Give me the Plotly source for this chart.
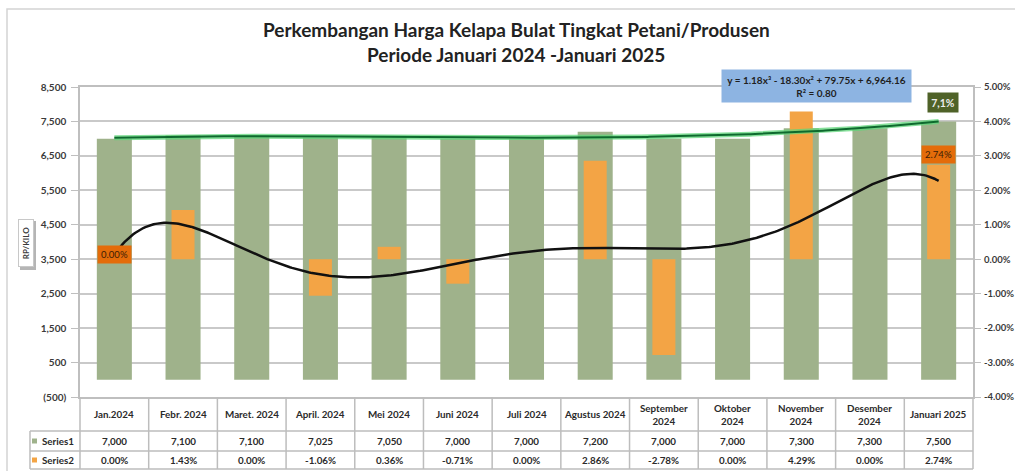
import numpy as np
import plotly.graph_objects as go

# ---------------- data ----------------
categories = ["Jan.2024", "Febr. 2024", "Maret. 2024", "April. 2024", "Mei 2024",
              "Juni 2024", "Juli 2024", "Agustus 2024", "September<br>2024",
              "Oktober<br>2024", "November<br>2024", "Desember<br>2024", "Januari 2025"]
series1 = [7000, 7100, 7100, 7025, 7050, 7000, 7000, 7200, 7000, 7000, 7300, 7300, 7500]
series2 = [0.00, 1.43, 0.00, -1.06, 0.36, -0.71, 0.00, 2.86, -2.78, 0.00, 4.29, 0.00, 2.74]
series_names = ["Series1", "Series2"]
y1_tickvals = [-500, 500, 1500, 2500, 3500, 4500, 5500, 6500, 7500, 8500]
y1_ticktext = ["(500)", "500", "1,500", "2,500", "3,500", "4,500", "5,500", "6,500", "7,500", "8,500"]
y2_tickvals = [-4, -3, -2, -1, 0, 1, 2, 3, 4, 5]
y2_ticktext = ["-4.00%", "-3.00%", "-2.00%", "-1.00%", "0.00%", "1.00%", "2.00%", "3.00%", "4.00%", "5.00%"]
title_lines = ["Perkembangan Harga Kelapa Bulat Tingkat Petani/Produsen",
               "Periode Januari 2024 -Januari 2025"]
trend_eq = "y = 1.18x³ - 18.30x² + 79.75x + 6,964.16<br>R² = 0.80"
badge_text = "7,1%"
y_title = "RP/KILO"

# ---------------- style / geometry ----------------
GREEN = "#9FB28B"
ORANGE = "#F3A445"
LABEL_ORANGE = "#E46C0A"
GRID = "#C9C9C9"
FONT = "Lato, Open Sans, sans-serif"
TXT = "#3A3A3A"

W, H = 1015, 471
L, R, T, B = 80, 42, 87, 74
PW = W - L - R
PH = H - T - B
Y1 = [-500, 8500]
Y2 = [-4, 5]


def px(xp):
    return (xp - L) / PW


def py(yp):
    return (H - B - yp) / PH


def to_y2(v):
    return Y2[0] + (np.asarray(v) - Y1[0]) * (Y2[1] - Y2[0]) / (Y1[1] - Y1[0])


n = len(categories)
xi = np.arange(n)
idx = np.arange(1, n + 1)
c3 = np.polyfit(idx, series1, 3)
c6 = np.polyfit(idx, series2, 6)
t = np.linspace(1, n, 400)
green_fit = np.polyval(c3, t)
black_fit = np.polyval(c6, t)

fig = go.Figure()
fig.add_trace(go.Bar(x=xi, y=series1, width=0.51, marker=dict(color=GREEN, line_width=0),
                     yaxis="y", name=series_names[0]))
fig.add_trace(go.Bar(x=xi, y=series2, width=0.335, marker=dict(color=ORANGE, line_width=0),
                     yaxis="y2", name=series_names[1]))
fig.add_trace(go.Scatter(x=t - 1, y=to_y2(green_fit), yaxis="y2", mode="lines",
                         line=dict(color="#5FD67A", width=5), opacity=0.75, hoverinfo="skip"))
fig.add_trace(go.Scatter(x=t - 1, y=to_y2(green_fit), yaxis="y2", mode="lines",
                         line=dict(color="#0E6A2E", width=2), hoverinfo="skip"))
fig.add_trace(go.Scatter(x=t - 1, y=black_fit, yaxis="y2", mode="lines",
                         line=dict(color="#111111", width=2.5), hoverinfo="skip"))

tickfont = dict(family=FONT, size=10, color=TXT, weight="bold")
tickfont2 = dict(family=FONT, size=9.5, color=TXT, weight="bold")
fig.update_layout(
    width=W, height=H,
    margin=dict(l=L, r=R, t=T, b=B, autoexpand=False),
    paper_bgcolor="white", plot_bgcolor="white",
    showlegend=False, barmode="overlay",
    xaxis=dict(range=[-0.5, n - 0.5], showticklabels=False, showgrid=False, zeroline=False,
               showline=True, mirror=True, linecolor="#BFBFBF", linewidth=1.5, ticks=""),
    yaxis=dict(range=Y1, tickvals=y1_tickvals, ticktext=y1_ticktext, showgrid=True,
               gridcolor=GRID, gridwidth=1.5, zeroline=False, showline=True, mirror=True,
               linecolor="#BFBFBF", linewidth=1.5, ticks="outside", ticklen=7,
               tickcolor="#BFBFBF", tickfont=tickfont, ticklabelstandoff=3),
    yaxis2=dict(range=Y2, tickvals=y2_tickvals, ticktext=y2_ticktext, overlaying="y",
                side="right", showgrid=False, zeroline=False, showline=False,
                ticks="outside", ticklen=7, tickcolor="#BFBFBF", tickfont=tickfont2,
                ticklabelstandoff=1),
)

ann = []
shapes = []

# titles
for txt, yc in zip(title_lines, [29, 54]):
    ann.append(dict(text=txt, x=px(516), y=py(yc), xref="paper", yref="paper",
                    showarrow=False, xanchor="center", yanchor="middle",
                    font=dict(family=FONT, size=19, color="#222222", weight="bold")))

# outer frame
shapes.append(dict(type="rect", xref="paper", yref="paper", x0=px(7), x1=px(1030),
                   y0=py(480), y1=py(9), line=dict(color="#D4D4D4", width=1.5)))

# y-axis title box with shadow
shapes.append(dict(type="rect", xref="paper", yref="paper", x0=px(20), x1=px(36),
                   y0=py(270), y1=py(221), line=dict(width=0), fillcolor="#B5B5B5"))
ann.append(dict(text=y_title, x=px(26), y=py(243), xref="paper", yref="paper",
                showarrow=False, textangle=-90, bgcolor="white", bordercolor="#C8C8C8",
                borderwidth=1, borderpad=1, width=44, height=12,
                xanchor="center", yanchor="middle",
                font=dict(family=FONT, size=8, color=TXT, weight="bold")))

# trend equation box
ann.append(dict(text=trend_eq, x=px(816.5), y=py(86), xref="paper", yref="paper",
                showarrow=False, bgcolor="#8DB4E2", width=187, height=30, borderpad=1,
                xanchor="center", yanchor="middle",
                font=dict(family=FONT, size=10, color="#1F1F1F", weight="bold")))
# badge
ann.append(dict(text=badge_text, x=px(943), y=py(102.5), xref="paper", yref="paper",
                showarrow=False, bgcolor="#4F6228", width=28, height=17, borderpad=1,
                xanchor="center", yanchor="middle",
                font=dict(family=FONT, size=10.5, color="#EDEDED", weight="bold")))

# data labels on series2 (first and last)
for i, ys in [(0, -5), (n - 1, 1)]:
    ann.append(dict(text=f"{series2[i]:.2f}%", x=xi[i], y=series2[i], xref="x", yref="y2",
                    showarrow=False, xanchor="center", yanchor="bottom", yshift=ys,
                    bgcolor=LABEL_ORANGE, width=31, height=15, borderpad=1,
                    font=dict(family=FONT, size=9.5, color="#3B1C05")))

# ----- data table -----
TBL = "#BDBDBD"
ROW_H = [397, 431, 451, 469]
for yl in ROW_H[1:]:
    shapes.append(dict(type="line", xref="paper", yref="paper", x0=px(30), x1=1,
                       y0=py(yl), y1=py(yl), line=dict(color=TBL, width=1.5)))
for i in range(n + 1):
    shapes.append(dict(type="line", xref="paper", yref="paper", x0=i / n, x1=i / n,
                       y0=py(ROW_H[0]), y1=py(ROW_H[3]), line=dict(color=TBL, width=1.5)))
shapes.append(dict(type="line", xref="paper", yref="paper", x0=px(30), x1=px(30),
                   y0=py(ROW_H[1]), y1=py(ROW_H[3]), line=dict(color=TBL, width=1.5)))

cell_font = dict(family=FONT, size=9.8, color="#2A2A2A", weight="bold")
for i, c in enumerate(categories):
    ann.append(dict(text=c, x=xi[i], y=py(414), xref="x", yref="paper", showarrow=False,
                    xanchor="center", yanchor="middle", font=cell_font))
    ann.append(dict(text=f"{series1[i]:,}", x=xi[i], y=py(441), xref="x", yref="paper",
                    showarrow=False, xanchor="center", yanchor="middle", font=cell_font))
    ann.append(dict(text=f"{series2[i]:.2f}%", x=xi[i], y=py(460), xref="x", yref="paper",
                    showarrow=False, xanchor="center", yanchor="middle", font=cell_font))

for name, col, yc in [(series_names[0], GREEN, 441), (series_names[1], ORANGE, 460)]:
    shapes.append(dict(type="rect", xref="paper", yref="paper", x0=px(32), x1=px(37),
                       y0=py(yc + 2.5), y1=py(yc - 2.5), line=dict(width=0), fillcolor=col))
    ann.append(dict(text=name, x=px(39.5), y=py(yc), xref="paper", yref="paper",
                    showarrow=False, xanchor="left", yanchor="middle", font=cell_font))

fig.update_layout(annotations=ann, shapes=shapes)
fig.write_html("out.html", config={"displayModeBar": False},
               post_script="document.body.style.margin='0';document.body.style.overflow='hidden';")
